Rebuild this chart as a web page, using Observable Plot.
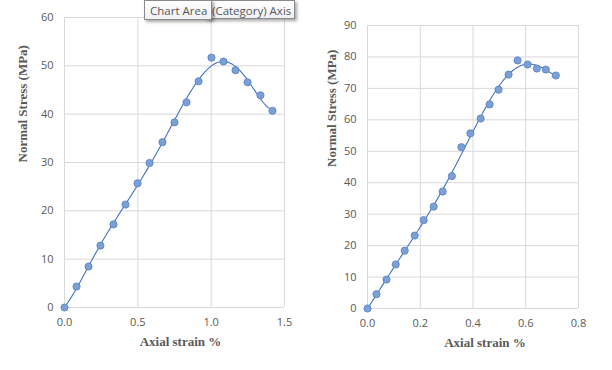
<!DOCTYPE html>
<html>
<head>
<meta charset="utf-8">
<script src="https://cdn.jsdelivr.net/npm/d3@7"></script>
<script src="https://cdn.jsdelivr.net/npm/@observablehq/plot@0.6"></script>
<style>
  html, body { margin: 0; padding: 0; background: #fff; }
  #wrap { position: relative; width: 612px; height: 370px; overflow: hidden; background: #fff; }
  #left, #right { position: absolute; top: 0; }
  #left { left: 0; }
  #right { left: 306px; }
  .tip { position: absolute; top: 0; height: 19px; line-height: 19px; font-family: "Open Sans", sans-serif; font-size: 11.5px; color: #575757; background: linear-gradient(#ffffff, #eef0f4); border: 1px solid #8a8a8a; box-shadow: 2px 2px 3px rgba(0,0,0,0.35); white-space: nowrap; box-sizing: border-box; }
</style>
</head>
<body>
<div id="wrap">
  <div id="left"></div>
  <div id="right"></div>
  <div class="tip" style="left:205px; width:90px; padding-left:6px;">(Category) Axis</div>
  <div class="tip" style="left:144px; width:68px; height:20px; padding-left:5px;">Chart Area</div>
</div>
<script>
// Left chart data
const strainA = [0, 0.082, 0.164, 0.245, 0.334, 0.416, 0.498, 0.58, 0.668, 0.75, 0.832, 0.914, 1.002, 1.084, 1.166, 1.248, 1.336, 1.418];
const stressA = [0, 4.35, 8.48, 12.8, 17.2, 21.3, 25.7, 29.9, 34.2, 38.3, 42.45, 46.8, 51.7, 50.9, 49.1, 46.6, 43.9, 40.7];
const xTicksA = [0, 0.5, 1.0, 1.5];
const yTicksA = [0, 10, 20, 30, 40, 50, 60];

// Right chart data
const strainB = [0, 0.034, 0.072, 0.107, 0.141, 0.179, 0.213, 0.251, 0.285, 0.32, 0.356, 0.39, 0.429, 0.463, 0.497, 0.535, 0.569, 0.607, 0.642, 0.676, 0.714];
const stressB = [0, 4.55, 9.2, 14.0, 18.4, 23.2, 28.1, 32.4, 37.2, 42.1, 51.3, 55.7, 60.4, 64.9, 69.6, 74.4, 78.9, 77.6, 76.3, 76.0, 74.1];
const xTicksB = [0, 0.2, 0.4, 0.6, 0.8];
const yTicksB = [0, 10, 20, 30, 40, 50, 60, 70, 80, 90];

const xTitle = "Axial strain %";
const yTitle = "Normal Stress (MPa)";

const lineColor = "#4472c4";
const dotFill = "#7ba0d6";
const dotStroke = "#5580c4";
const gridColor = "#d9d9d9";
const tickColor = "#595959";
const titleFont = "'Liberation Serif', 'Times New Roman', serif";
const tickFont = "'Open Sans', sans-serif";

// polynomial least-squares trendline (like a spreadsheet trendline)
function polyFit(xs, ys, deg) {
  const xmax = d3.max(xs) || 1;
  const u = xs.map(x => x / xmax);
  const n = deg + 1;
  const A = Array.from({length: n}, () => new Array(n + 1).fill(0));
  for (let i = 0; i < u.length; i++) {
    const p = [];
    for (let k = 0; k < n; k++) p.push(Math.pow(u[i], k));
    for (let r = 0; r < n; r++) {
      for (let c = 0; c < n; c++) A[r][c] += p[r] * p[c];
      A[r][n] += p[r] * ys[i];
    }
  }
  for (let c = 0; c < n; c++) {
    let piv = c;
    for (let r = c + 1; r < n; r++) if (Math.abs(A[r][c]) > Math.abs(A[piv][c])) piv = r;
    [A[c], A[piv]] = [A[piv], A[c]];
    for (let r = 0; r < n; r++) {
      if (r === c) continue;
      const f = A[r][c] / A[c][c];
      for (let k = c; k <= n; k++) A[r][k] -= f * A[c][k];
    }
  }
  const coef = A.map((row, i) => row[n] / row[i]);
  return x => { const t = x / xmax; let s = 0; for (let k = n - 1; k >= 0; k--) s = s * t + coef[k]; return s; };
}

function makeChart(xs, ys, xTicks, yTicks, m, yTitleDx, xTitleDx, deg) {
  const data = xs.map((x, i) => ({x, y: ys[i]}));
  const f = polyFit(xs, ys, deg);
  const x0 = d3.min(xs), x1 = d3.max(xs);
  const trend = d3.range(0, 201).map(i => { const x = x0 + (x1 - x0) * i / 200; return {x, y: f(x)}; });
  const xDom = [xTicks[0], xTicks[xTicks.length - 1]];
  const yDom = [yTicks[0], yTicks[yTicks.length - 1]];
  return Plot.plot({
    width: 306,
    height: 370,
    marginLeft: m.left,
    marginRight: m.right,
    marginTop: m.top,
    marginBottom: m.bottom,
    style: { background: "transparent", fontFamily: tickFont, fontSize: "11px", color: tickColor, overflow: "visible" },
    x: { domain: xDom, ticks: xTicks, tickFormat: d3.format(".1f"), label: null },
    y: { domain: yDom, ticks: yTicks, tickFormat: d3.format("d"), label: null },
    marks: [
      Plot.gridX(xTicks, { stroke: gridColor, strokeOpacity: 1, strokeWidth: 1 }),
      Plot.gridY(yTicks, { stroke: gridColor, strokeOpacity: 1, strokeWidth: 1 }),
      Plot.axisX({ ticks: xTicks, tickSize: 0, tickPadding: 11, tickFormat: d3.format(".1f"), fill: tickColor, fontSize: 11, label: null }),
      Plot.axisY({ ticks: yTicks, tickSize: 0, tickPadding: 11, tickFormat: d3.format("d"), fill: tickColor, fontSize: 11, label: null }),
      Plot.line(trend, { x: "x", y: "y", stroke: lineColor, strokeWidth: 1.1 }),
      Plot.dot(data, { x: "x", y: "y", r: 3.6, fill: dotFill, stroke: dotStroke, strokeWidth: 0.8 }),
      Plot.text([yTitle], { text: d => d, frameAnchor: "left", dx: yTitleDx, rotate: -90, fontFamily: titleFont, fontWeight: "bold", fontSize: 13, fill: tickColor }),
      Plot.text([xTitle], { text: d => d, frameAnchor: "bottom", dx: xTitleDx, dy: 38, fontFamily: titleFont, fontWeight: "bold", fontSize: 13, fill: tickColor })
    ]
  });
}

document.getElementById("left").append(
  makeChart(strainA, stressA, xTicksA, yTicksA, { left: 64, right: 22, top: 17, bottom: 63 }, -42, 6, 6)
);
document.getElementById("right").append(
  makeChart(strainB, stressB, xTicksB, yTicksB, { left: 61, right: 34, top: 25, bottom: 62 }, -36, 12, 6)
);
</script>
</body>
</html>
